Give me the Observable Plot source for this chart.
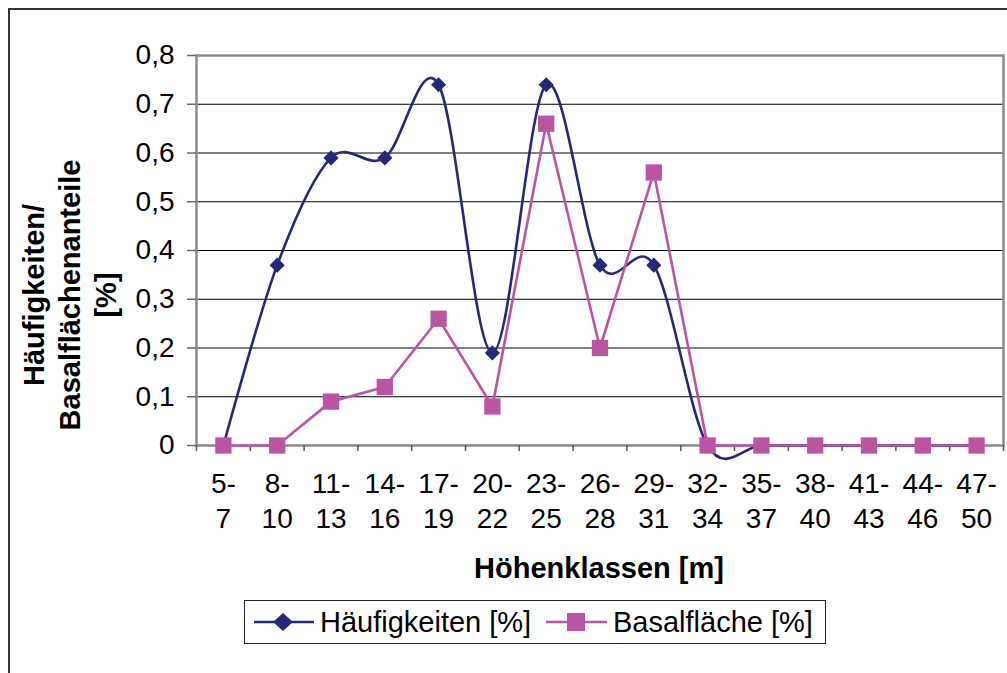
<!DOCTYPE html>
<html>
<head>
<meta charset="utf-8">
<script src="https://cdn.jsdelivr.net/npm/d3@7"></script>
<script src="https://cdn.jsdelivr.net/npm/@observablehq/plot@0.6"></script>
<style>
  html, body { margin: 0; padding: 0; background: #fff; overflow: hidden; }
  #wrap { position: relative; width: 1007px; height: 673px; overflow: hidden; font-family: "Liberation Sans", Arial, sans-serif; }
  #frame { position: absolute; left: 8px; top: 8px; width: 1200px; height: 900px; border: 2px solid #333; box-sizing: border-box; }
  #chart { position: absolute; left: 0; top: 0; }
  #ytitle { position: absolute; left: 70px; top: 295px; width: 440px; transform: translate(-50%, -50%) rotate(-90deg); text-align: center; font-weight: bold; font-size: 29px; line-height: 36px; color: #000; }
  #xtitle { position: absolute; left: 599px; top: 568px; transform: translate(-50%, -50%); font-weight: bold; font-size: 29px; white-space: nowrap; color: #000; }
  #legend { position: absolute; left: 244px; top: 600px; width: 582px; height: 44px; border: 1px solid #222; box-sizing: border-box; color: #000; white-space: nowrap; }
  #legend svg { position: absolute; left: 0; top: 0; }
</style>
</head>
<body>
<div id="wrap">
  <div id="frame"></div>
  <div id="chart"></div>
  <div id="ytitle">Häufigkeiten/<br>Basalflächenanteile<br>[%]</div>
  <div id="xtitle">Höhenklassen [m]</div>
  <div id="legend"></div>
</div>
<script>
// ---- data ----
const classes = ["5-7","8-10","11-13","14-16","17-19","20-22","23-25","26-28","29-31","32-34","35-37","38-40","41-43","44-46","47-50"];
const haeufigkeiten = [0, 0.37, 0.59, 0.59, 0.74, 0.19, 0.74, 0.37, 0.37, 0, 0, 0, 0, 0, 0];
const basalflaeche  = [0, 0, 0.09, 0.12, 0.26, 0.08, 0.66, 0.2, 0.56, 0, 0, 0, 0, 0, 0];
const yTicks = [0, 0.1, 0.2, 0.3, 0.4, 0.5, 0.6, 0.7, 0.8];
const seriesNames = ["Häufigkeiten [%]", "Basalfläche [%]"];

const BLUE = "#27277a";
const PINK = "#bc55a1";

const idx = classes.map((_, i) => i);
const boundaries = d3.range(classes.length + 1).map(i => i - 0.5);
const hData = idx.map(i => ({i, v: haeufigkeiten[i]}));
const bData = idx.map(i => ({i, v: basalflaeche[i]}));

const fmtY = d => d === 0 ? "0" : d.toFixed(1).replace(".", ",");

const chart = Plot.plot({
  width: 1007,
  height: 600,
  marginLeft: 196,
  marginRight: 4,
  marginTop: 55,
  marginBottom: 155,
  style: {fontFamily: "'Liberation Sans', Arial, sans-serif", fontSize: "28px", color: "#000", background: "transparent"},
  x: {type: "linear", domain: [-0.5, classes.length - 0.5]},
  y: {domain: [0, 0.8]},
  marks: [
    Plot.gridY(yTicks.filter(d => d > 0 && d < 0.8), {stroke: "#000", strokeOpacity: 1, strokeWidth: 1}),
    Plot.frame({stroke: "#8a8a8a", strokeWidth: 2.5}),
    Plot.axisY({ticks: yTicks, tickFormat: fmtY, tickSize: 9, tickPadding: 13, stroke: "#666", strokeWidth: 1.5, fontSize: 28, label: null, fill: "#000"}),
    Plot.axisX({ticks: boundaries, tickSize: 6, tickFormat: () => "", stroke: "#555", strokeWidth: 1.5, label: null}),
    Plot.axisX({ticks: idx, tickSize: 0, tickPadding: 22, tickFormat: i => classes[i].replace("-", "-\n"), lineHeight: 1.27, fontSize: 28, label: null, fill: "#000"}),
    Plot.line(hData, {x: "i", y: "v", curve: "cardinal", stroke: BLUE, strokeWidth: 2.6}),
    Plot.dot(hData, {x: "i", y: "v", symbol: "diamond2", r: 6.8, fill: BLUE, stroke: "none"}),
    Plot.line(bData, {x: "i", y: "v", stroke: PINK, strokeWidth: 2.6}),
    Plot.dot(bData, {x: "i", y: "v", symbol: "square", r: 9.2, fill: PINK, stroke: "none"})
  ]
});
document.getElementById("chart").appendChild(chart);

// ---- legend ----
const lsvg = d3.select("#legend").append("svg").attr("width", 580).attr("height", 42);
const items = [
  {name: seriesNames[0], color: BLUE, sym: "diamond", x1: 9, x2: 69, cx: 38, tx: 75},
  {name: seriesNames[1], color: PINK, sym: "square", x1: 301, x2: 362, cx: 331, tx: 368}
];
items.forEach(it => {
  lsvg.append("line").attr("x1", it.x1).attr("x2", it.x2).attr("y1", 21).attr("y2", 21)
    .attr("stroke", it.color).attr("stroke-width", 2.6);
  if (it.sym === "diamond") {
    lsvg.append("path").attr("d", `M${it.cx},12 L${it.cx + 10},21 L${it.cx},30 L${it.cx - 10},21 Z`).attr("fill", it.color);
  } else {
    lsvg.append("rect").attr("x", it.cx - 9).attr("y", 12).attr("width", 18).attr("height", 18).attr("fill", it.color);
  }
  lsvg.append("text").attr("x", it.tx).attr("y", 31).text(it.name)
    .attr("font-size", 29).attr("font-family", "'Liberation Sans', Arial, sans-serif").attr("fill", "#000");
});
</script>
</body>
</html>
